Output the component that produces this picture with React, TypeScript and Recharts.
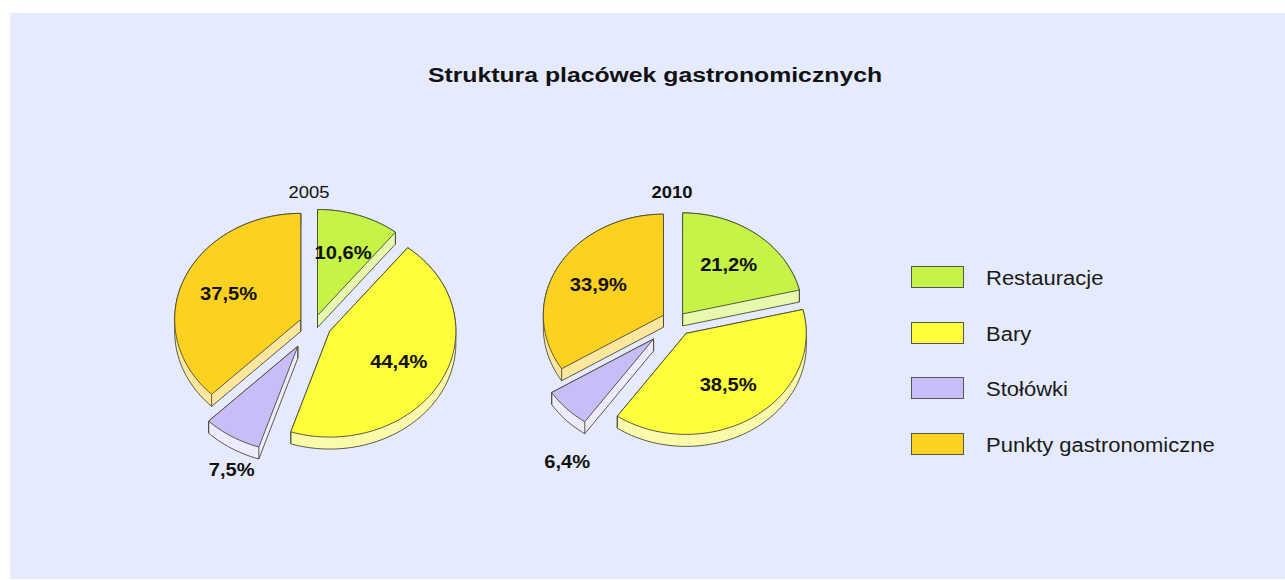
import React from 'react';
import { PieChart, Pie, Cell, Legend } from 'recharts';

const categories = ['Restauracje', 'Bary', 'Stołówki', 'Punkty gastronomiczne'];
const values2005 = [10.6, 44.4, 7.5, 37.5];
const values2010 = [21.2, 38.5, 6.4, 33.9];
const years = ['2005', '2010'];
const title = 'Struktura placówek gastronomicznych';

const topColors = ['#c5f347', '#fefe3a', '#c9bdf7', '#fdd120'];
const sideColors = ['#e6f9ac', '#fafaaa', '#eeebfc', '#fde79e'];
// how far each category's slice is pulled out of the pie (style)
const explodeBy = [9, 15, 26, 12];

const data2005 = categories.map((name, i) => ({ name, value: values2005[i] }));
const data2010 = categories.map((name, i) => ({ name, value: values2010[i] }));

const SX = 1.19; // horizontal stretch of the pies
const TS = 1.15; // horizontal stretch of the text
const DEPTH = 12;
const RAD = Math.PI / 180;
const FONT = '"Liberation Sans", Arial, Helvetica, sans-serif';
const STROKE = '#4a4a3a';

type P = [number, number];

function hull(points: P[]): P[] {
  const pts = points.slice().sort((a, b) => (a[0] === b[0] ? a[1] - b[1] : a[0] - b[0]));
  const cross = (o: P, a: P, b: P) => (a[0] - o[0]) * (b[1] - o[1]) - (a[1] - o[1]) * (b[0] - o[0]);
  const lower: P[] = [];
  for (const p of pts) {
    while (lower.length >= 2 && cross(lower[lower.length - 2], lower[lower.length - 1], p) <= 0) lower.pop();
    lower.push(p);
  }
  const upper: P[] = [];
  for (let i = pts.length - 1; i >= 0; i--) {
    const p = pts[i];
    while (upper.length >= 2 && cross(upper[upper.length - 2], upper[upper.length - 1], p) <= 0) upper.pop();
    upper.push(p);
  }
  upper.pop();
  lower.pop();
  return lower.concat(upper);
}

const toPath = (p: P[]) => 'M' + p.map((q) => q[0].toFixed(2) + ',' + q[1].toFixed(2)).join('L') + 'Z';

function colorIndex(props: any): number {
  let idx = categories.indexOf(props.name ?? props.payload?.name);
  if (idx < 0) idx = topColors.indexOf(props.fill);
  return idx < 0 ? 0 : idx;
}

function Slice3D(props: any) {
  const { cx, cy, outerRadius: r, startAngle, endAngle } = props;
  const idx = colorIndex(props);
  const e = explodeBy[idx];
  const mid = ((startAngle + endAngle) / 2) * RAD;
  const ox = cx + e * SX * Math.cos(mid);
  const oy = cy - e * Math.sin(mid);
  const n = Math.max(2, Math.ceil(Math.abs(endAngle - startAngle) / 2));
  const top: P[] = [[ox, oy]];
  for (let k = 0; k <= n; k++) {
    const a = (startAngle + ((endAngle - startAngle) * k) / n) * RAD;
    top.push([ox + r * SX * Math.cos(a), oy - r * Math.sin(a)]);
  }
  const bottom: P[] = top.map(([x, y]) => [x, y + DEPTH] as P);
  const h = hull([...top, ...bottom]);
  const corners = [top[0], top[1], top[top.length - 1]];
  return (
    <g>
      <path d={toPath(h)} fill={sideColors[idx]} stroke={STROKE} strokeWidth={0.9} strokeLinejoin="round" />
      {corners.map((c, k) => (
        <line key={k} x1={c[0]} y1={c[1]} x2={c[0]} y2={c[1] + DEPTH} stroke={STROKE} strokeWidth={0.9} />
      ))}
      <path d={toPath(top)} fill={topColors[idx]} stroke={STROKE} strokeWidth={0.9} strokeLinejoin="round" />
    </g>
  );
}

const fmt = (v: number) => v.toFixed(1).replace('.', ',') + '%';

function renderLabel(props: any) {
  const { cx, cy, midAngle, outerRadius: r, percent, value } = props;
  const idx = colorIndex(props);
  const a = midAngle * RAD;
  let x: number;
  let y: number;
  if (percent < 0.09) {
    x = cx + r * SX * 1.25 * Math.cos(a);
    y = cy + r + DEPTH + 28;
  } else {
    const rr = r * 0.62 + explodeBy[idx];
    x = cx + rr * SX * Math.cos(a);
    y = cy - rr * Math.sin(a);
  }
  return (
    <text
      transform={`translate(${x.toFixed(2)},${(y + 6).toFixed(2)}) scale(${TS},1)`}
      textAnchor="middle"
      fontFamily={FONT}
      fontSize={17.5}
      fontWeight="bold"
      fill="#111"
    >
      {fmt(value)}
    </text>
  );
}

function LegendContent() {
  return (
    <div style={{ fontFamily: FONT }}>
      {categories.map((c, i) => (
        <div key={c} style={{ display: 'flex', alignItems: 'center', height: 22, marginBottom: i < categories.length - 1 ? 33.5 : 0 }}>
          <div style={{ width: 51, height: 20, background: topColors[i], border: '1px solid #555', flex: 'none' }} />
          <span
            style={{
              marginLeft: 22,
              fontSize: 20,
              color: '#1a1a1a',
              whiteSpace: 'nowrap',
              display: 'inline-block',
              transform: `scaleX(${TS - 0.05})`,
              transformOrigin: 'left center',
              marginTop: 3,
            }}
          >
            {c}
          </span>
        </div>
      ))}
    </div>
  );
}

const pies = [
  { data: data2005, cx: 314, cy: 324, r: 106, year: years[0], bold: false, yearX: 309 },
  { data: data2010, cx: 676, cy: 321, r: 101, year: years[1], bold: true, yearX: 672 },
];

export default function App() {
  return (
    <div style={{ position: 'absolute', left: 0, top: 0, width: 1285, height: 580 }}>
      <div style={{ position: 'absolute', left: 10, top: 13, width: 1275, height: 566, background: '#e5ebfc' }} />
      <div style={{ position: 'absolute', left: 0, top: 0 }}>
        <PieChart width={1285} height={580} margin={{ top: 0, right: 0, bottom: 0, left: 0 }}>
          <text
            transform={`translate(655,82) scale(1.18,1)`}
            textAnchor="middle"
            fontFamily={FONT}
            fontSize={21}
            fontWeight="bold"
            fill="#111"
          >
            {title}
          </text>
          {pies.map((p) => (
            <text
              key={p.year}
              transform={`translate(${p.yearX},198) scale(${TS},1)`}
              textAnchor="middle"
              fontFamily={FONT}
              fontSize={16}
              fontWeight={p.bold ? 'bold' : 'normal'}
              fill="#111"
            >
              {p.year}
            </text>
          ))}
          {pies.map((p) => (
            <Pie
              key={p.year}
              data={p.data}
              dataKey="value"
              nameKey="name"
              cx={p.cx}
              cy={p.cy}
              outerRadius={p.r}
              startAngle={90}
              endAngle={-270}
              stroke="none"
              isAnimationActive={false}
              labelLine={false}
              label={renderLabel}
              shape={Slice3D}
            >
              {p.data.map((d, i) => (
                <Cell key={d.name} fill={topColors[i]} />
              ))}
            </Pie>
          ))}
          <Legend
            layout="vertical"
            align="right"
            verticalAlign="top"
            content={<LegendContent />}
            wrapperStyle={{ left: 911, top: 266, right: 'auto', bottom: 'auto', width: 340 }}
          />
        </PieChart>
      </div>
    </div>
  );
}
